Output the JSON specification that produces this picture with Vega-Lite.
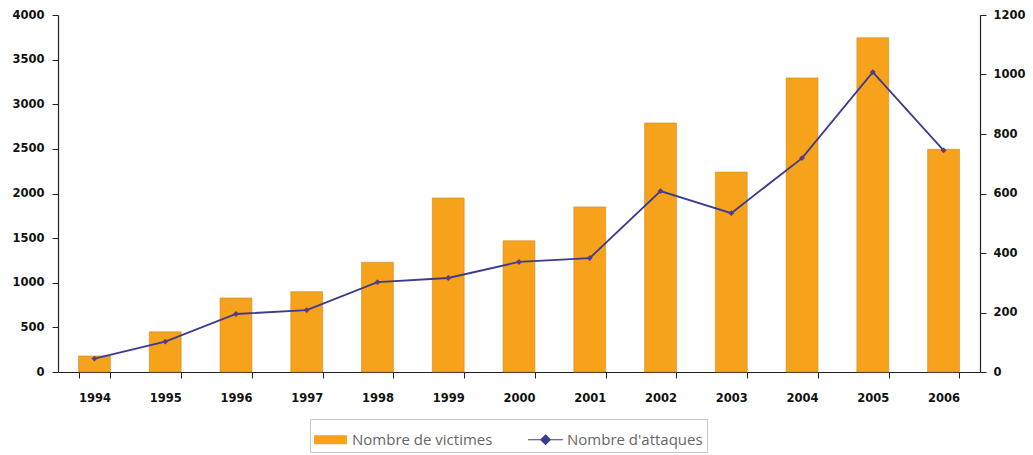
{
  "$schema": "https://vega.github.io/schema/vega-lite/v6.json",
  "width": 922,
  "height": 357,
  "autosize": {"type": "none"},
  "padding": {"left": 58, "top": 15, "right": 53, "bottom": 83},
  "background": "white",
  "config": {
    "view": {"stroke": null},
    "axis": {"grid": false, "domainColor": "#222", "tickColor": "#222", "labelFont": "DejaVu Sans", "labelFontWeight": "bold", "labelFontSize": 11.5, "labelColor": "#111", "title": null}
  },
  "data": {
    "values": [
      {"annee": "1994", "victimes": 180, "attaques": 45},
      {"annee": "1995", "victimes": 450, "attaques": 102},
      {"annee": "1996", "victimes": 830, "attaques": 195},
      {"annee": "1997", "victimes": 900, "attaques": 208},
      {"annee": "1998", "victimes": 1230, "attaques": 302},
      {"annee": "1999", "victimes": 1950, "attaques": 316},
      {"annee": "2000", "victimes": 1470, "attaques": 370},
      {"annee": "2001", "victimes": 1850, "attaques": 383},
      {"annee": "2002", "victimes": 2790, "attaques": 608},
      {"annee": "2003", "victimes": 2240, "attaques": 534},
      {"annee": "2004", "victimes": 3295, "attaques": 719},
      {"annee": "2005", "victimes": 3745, "attaques": 1008},
      {"annee": "2006", "victimes": 2495, "attaques": 745}
    ]
  },
  "encoding": {
    "x": {
      "field": "annee", "type": "ordinal",
      "scale": {"paddingInner": 0.55, "paddingOuter": 0.29},
      "axis": {"labelAngle": 0, "tickBand": "extent", "tickSize": 6, "labelPadding": 14, "domainWidth": 1.2}
    }
  },
  "layer": [
    {
      "mark": {"type": "bar", "stroke": "#C98A2A", "strokeWidth": 0.6},
      "encoding": {
        "y": {"field": "victimes", "type": "quantitative", "scale": {"domain": [0, 4000]}, "axis": {"values": [0, 500, 1000, 1500, 2000, 2500, 3000, 3500, 4000], "format": "d", "tickSize": 6, "labelPadding": 8, "domainWidth": 1.2}},
        "color": {
          "datum": "Nombre de victimes",
          "scale": {"domain": ["Nombre de victimes", "Nombre d'attaques"], "range": ["#F7A21B", "#3B3B8F"]},
          "legend": {
            "orient": "none", "legendX": 252, "legendY": 404, "direction": "horizontal", "title": null,
            "strokeColor": "#c8c8c8", "padding": 4,
            "labelFont": "Open Sans", "labelFontSize": 15, "labelColor": "#666",
            "symbolSize": 1000, "columnPadding": 32, "labelOffset": 5,
            "symbolType": {"expr": "datum.value === 'Nombre de victimes' ? 'M-1,-0.25H1V0.25H-1Z' : 'M-1.1,0H1.1M0,-0.3L0.3,0L0,0.3L-0.3,0Z'"},
            "symbolFillColor": {"expr": "datum.value === 'Nombre de victimes' ? '#F7A21B' : '#4B3A8C'"},
            "symbolStrokeColor": {"expr": "datum.value === 'Nombre de victimes' ? '#F7A21B' : '#3B3B8F'"},
            "symbolStrokeWidth": 1.2
          }
        }
      }
    },
    {
      "mark": {"type": "line", "strokeWidth": 1.8, "color": "#3B3B8F"},
      "encoding": {
        "y": {"field": "attaques", "type": "quantitative", "scale": {"domain": [0, 1200]}, "axis": {"orient": "right", "values": [0, 200, 400, 600, 800, 1000, 1200], "format": "d", "tickSize": 6, "labelPadding": 7, "domainWidth": 1.2}}
      }
    },
    {
      "mark": {"type": "point", "shape": "diamond", "filled": true, "size": 35, "color": "#5E3A80", "opacity": 1},
      "encoding": {
        "y": {"field": "attaques", "type": "quantitative", "scale": {"domain": [0, 1200]}, "axis": null}
      }
    }
  ],
  "resolve": {"scale": {"y": "independent"}}
}
